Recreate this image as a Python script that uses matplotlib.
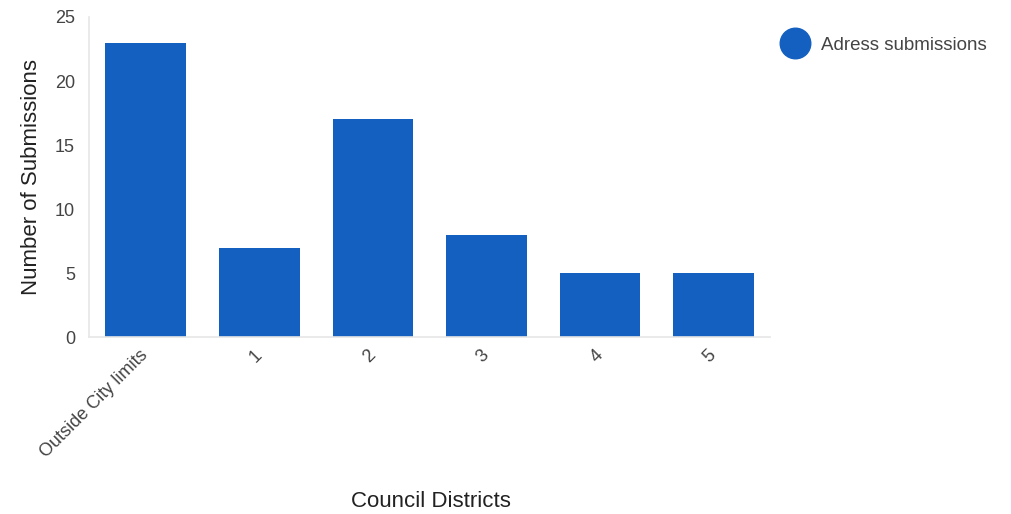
import matplotlib.pyplot as plt
from matplotlib.lines import Line2D

plt.rcParams['font.family'] = ['Liberation Sans', 'DejaVu Sans']

districts = ['Outside City limits', '1', '2', '3', '4', '5']
submissions = [23, 7, 17, 8, 5, 5]
y_ticks = [0, 5, 10, 15, 20, 25]

blue = '#1360c1'
grey = '#444444'

fig = plt.figure(figsize=(10.11, 5.14), dpi=100)
ax = fig.add_axes([0.088, 0.344, 0.674, 0.623])

x = range(len(districts))
ax.bar(x, submissions, width=0.71, color=blue, zorder=2)

ax.set_xlim(-0.5, len(districts) - 0.5)
ax.set_ylim(0, 25)
ax.set_yticks(y_ticks)
ax.set_xticks(list(x))
ax.set_xticklabels(districts, rotation=45, ha='right', va='center', rotation_mode='anchor')
ax.tick_params(axis='both', length=0, colors=grey, labelsize=13)
ax.tick_params(axis='x', pad=11)
ax.tick_params(axis='y', pad=10)

for s in ['top', 'right']:
    ax.spines[s].set_visible(False)
ax.spines['left'].set_color('#e6e6e6')
ax.spines['bottom'].set_color('#e6e6e6')
ax.spines['left'].set_linewidth(1.2)
ax.spines['bottom'].set_linewidth(1.2)

ax.set_ylabel('Number of Submissions', fontsize=16, color='#222222', labelpad=9)
fig.text(0.426, 0.004, 'Council Districts', fontsize=16, color='#222222', ha='center', va='bottom')

handle = Line2D([], [], marker='o', linestyle='none', markersize=22, color=blue)
fig.legend([handle], ['Adress submissions'], loc='upper left', bbox_to_anchor=(0.751, 0.962),
           frameon=False, fontsize=13.5, handletextpad=0.4, labelcolor=grey)

fig.savefig('out.png', dpi=100)
